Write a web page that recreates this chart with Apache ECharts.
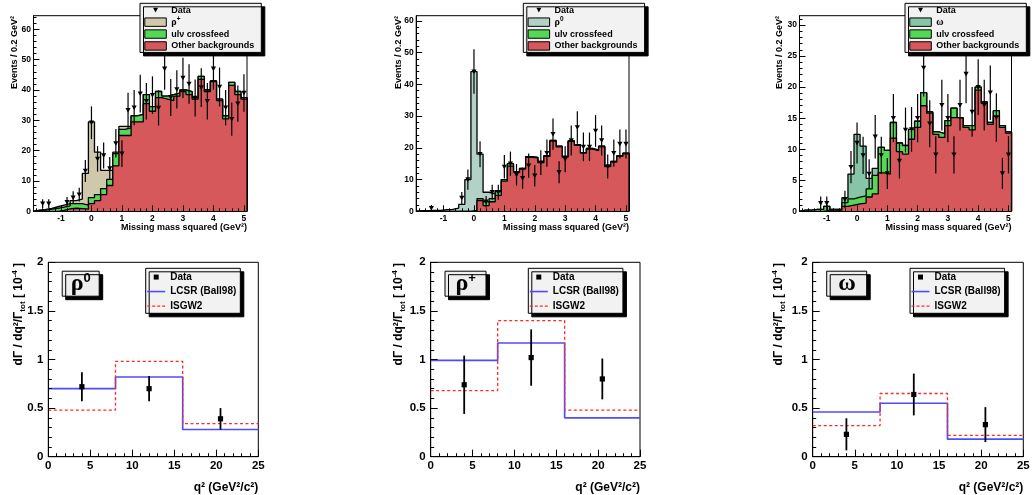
<!DOCTYPE html>
<html><head><meta charset="utf-8">
<script src="https://cdn.jsdelivr.net/npm/echarts@6/dist/echarts.min.js"></script>
<style>html,body{margin:0;padding:0;background:#fff}#c{width:1032px;height:495px}</style>
</head><body><div id="c"></div>
<script>
// ---------- top row: missing-mass-squared histograms (35 bins of 0.2 GeV^2 starting at -1.9) ----------
const binLow = -1.9, binWidth = 0.2, binCount = 35;
const missMassTicks = [-1, 0, 1, 2, 3, 4, 5];
const eventsTicks60 = [0, 10, 20, 30, 40, 50, 60];
const eventsTicks30 = [0, 5, 10, 15, 20, 25, 30];

const rhoPlusOther  = [0,0,0,0,0.3,0.8,1.0,0.9,0.7,2.5,3.5,5.5,8.5,15.0,25.0,25.0,29.5,29.5,35.5,33.0,37.5,37.0,36.5,38.0,39.5,38.5,37.0,43.5,39.5,42.8,36.5,30.5,41.5,38.5,37.0];
const rhoPlusCross  = [0.3,0.4,0.7,1.0,1.1,1.0,1.5,1.6,1.3,2.0,2.0,2.0,2.0,4.0,2.0,2.5,2.0,2.5,3.0,1.5,2.0,1.0,2.0,1.0,0.5,1.0,0.5,1.0,0.5,0.2,0.5,1.0,1.0,1.0,0.5];
const rhoPlusSignal = [0.1,0.2,0.3,0.5,0.6,0.7,1.0,1.5,10.5,25.0,14.0,6.0,3.0,0.5,1.0,0.5,0,0,0,0,0,0,0,0,0,0,0,0,0,0,0,0,0,0,0];
const rhoPlusData   = [null,2.5,2.5,null,null,3.0,4.5,5.5,13.3,29.2,17.3,18.4,14.1,22.4,19.0,33.3,34.2,38.8,36.3,38.3,34.1,47.0,37.5,40.2,44.0,42.0,37.4,40.8,36.3,47.0,41.0,34.2,30.4,35.5,39.0];
const rhoPlusErr    = [0,1.5,1.5,0,0,1.7,2.1,2.3,3.6,5.4,4.2,4.3,3.8,4.7,4.4,5.8,5.8,6.2,6.0,6.2,5.8,6.9,6.1,6.3,6.6,6.5,6.1,6.4,6.0,6.9,6.4,5.8,5.5,6.0,6.2];

const rho0Other  = [0,0,0,0,0,0,0,0,0,0,3.4,1.8,3.0,5.0,9.5,14.2,12.3,13.3,17.0,16.8,15.3,17.3,22.1,20.3,17.1,22.0,20.8,18.3,19.6,19.1,20.3,14.1,15.5,17.3,18.1];
const rho0Cross  = [0,0,0,0,0,0,0,0,0,0.3,0.6,1.2,1.0,1.2,0.5,0.8,0.2,0.2,0.2,0.2,0.2,0.2,0.2,0.2,0.2,0.2,0.2,0.2,0.2,0.2,0.2,0.2,0.2,0.2,0.2];
const rho0Signal = [0.2,0.2,0.3,0.3,0.5,0.6,1.0,2.2,10.0,43.7,14.0,3.0,1.5,0.3,0,0,0,0,0,0,0,0,0,0,0,0,0,0,0,0,0,0,0,0,0];
const rho0Data   = [null,null,1.0,null,null,null,null,4.2,10.0,44.0,18.0,3.0,6.0,6.0,14.0,15.0,11.5,10.4,14.4,11.2,15.3,18.3,24.3,12.3,16.4,22.3,26.4,20.3,20.3,25.3,22.3,14.1,18.3,21.2,21.2];
const rho0Err    = [0,0,1.0,0,0,0,0,1.9,3.2,7.0,4.1,1.8,2.4,2.4,3.7,3.8,3.4,3.3,3.8,3.4,3.9,4.3,4.9,3.5,4.1,4.7,5.1,4.5,4.5,5.0,4.7,3.8,4.3,4.6,4.6];

const omegaOther  = [0,0,0,0,0.2,0.2,0.2,0.8,1.0,1.2,1.3,2.3,2.8,6.2,6.0,11.8,9.6,9.2,11.6,13.5,17.0,15.8,12.4,11.9,13.8,15.1,15.0,13.5,13.1,19.5,17.4,14.0,15.3,13.5,12.6];
const omegaCross  = [0.2,0.2,0.3,0.3,0.6,0.1,0.1,0.6,1.0,1.1,1.2,1.3,3.0,4.1,3.8,2.5,1.4,1.4,1.6,1.0,2.1,0.2,0.4,0.6,0.8,1.5,0.1,0.3,0.7,0.5,0.2,0.3,0.9,0.3,0.2];
const omegaSignal = [0,0,0,0,0,0,0,0.8,4.0,10.1,8.0,1.7,1.1,0,0,0,0,0,0,0,0,0,0,0,0,0,0,0,0,0,0,0,0,0,0];
const omegaData   = [null,null,null,1.3,1.3,null,null,1.9,7.1,11.0,9.0,6.0,12.0,9.0,6.1,15.0,8.1,13.1,13.2,15.0,23.1,14.1,9.1,17.1,15.0,9.1,17.1,22.1,16.0,20.0,17.1,19.1,15.1,6.1,9.1];
const omegaErr    = [0,0,0,1.1,1.1,0,0,1.4,2.6,3.3,3.0,2.4,3.5,3.0,2.5,3.9,2.8,3.6,3.6,3.9,4.6,3.8,3.0,4.1,3.9,3.0,4.1,4.7,4.0,4.5,4.1,4.4,3.9,2.5,3.0];

// ---------- bottom row: dΓ/dq² in three q² bins ----------
const qEdges = [0, 8, 16, 25];
const qCenters = [4, 12, 20.5];
const qTicks = [0, 5, 10, 15, 20, 25];
const rateTicks = [0, 0.5, 1, 1.5, 2];
const rho0Lcsr = [0.70, 0.82, 0.28];
const rho0Isgw2 = [0.48, 0.98, 0.34];
const rho0Rate = [0.72, 0.70, 0.39];
const rho0RateErr = [0.15, 0.13, 0.11];
const rhoPlusLcsr = [0.99, 1.17, 0.40];
const rhoPlusIsgw2 = [0.68, 1.40, 0.48];
const rhoPlusRate = [0.74, 1.02, 0.80];
const rhoPlusRateErr = [0.30, 0.29, 0.21];
const omegaLcsr = [0.46, 0.55, 0.18];
const omegaIsgw2 = [0.32, 0.65, 0.22];
const omegaRate = [0.23, 0.64, 0.33];
const omegaRateErr = [0.165, 0.215, 0.18];

// ---------- styling / layout ----------
const FONT = 'Liberation Sans';
const GREEN = '#55d855', RED = '#d6585a', BLUE = '#4d4dff', DASHRED = '#ff2a2a';
const binHigh = Math.round((binLow + binCount * binWidth) * 1000) / 1000;

const topPanels = [
  {sig:'ρ+', other:rhoPlusOther, cross:rhoPlusCross, signal:rhoPlusSignal, data:rhoPlusData, err:rhoPlusErr, color:'#cfc8aa',
   ymax:64.5, yint:10, yticks:eventsTicks60, grid:{left:33.5, top:15.7, width:213.5, height:195.6}, legendLeft:140, ytx:15},
  {sig:'ρ0', other:rho0Other, cross:rho0Cross, signal:rho0Signal, data:rho0Data, err:rho0Err, color:'#b2d2c8',
   ymax:61.6, yint:10, yticks:eventsTicks60, grid:{left:416.2, top:15.7, width:212.8, height:195.6}, legendLeft:523.3, ytx:398.3},
  {sig:'ω', other:omegaOther, cross:omegaCross, signal:omegaSignal, data:omegaData, err:omegaErr, color:'#88c4a6',
   ymax:31.5, yint:5, yticks:eventsTicks30, grid:{left:799.5, top:15.7, width:212, height:195.6}, legendLeft:905, ytx:780}
];
const botPanels = [
  {lab:'{g|ρ}{s|0}', lcsr:rho0Lcsr, isgw:rho0Isgw2, rate:rho0Rate, err:rho0RateErr,
   grid:{left:48.3, top:262.3, width:210, height:194.4}, legendLeft:145.7, boxLeft:61.7, boxPad:9, ytx:18.3},
  {lab:'{g|ρ}{s|+}', lcsr:rhoPlusLcsr, isgw:rhoPlusIsgw2, rate:rhoPlusRate, err:rhoPlusRateErr,
   grid:{left:430.7, top:262.3, width:209.3, height:194.4}, legendLeft:528.3, boxLeft:445, boxPad:10.5, ytx:398.3},
  {lab:'{g|ω}', lcsr:omegaLcsr, isgw:omegaIsgw2, rate:omegaRate, err:omegaRateErr,
   grid:{left:812.7, top:262.3, width:210.6, height:194.4}, legendLeft:910, boxLeft:826.7, boxPad:11.5, ytx:778.3}
];

function cumulate(...arrs) { return arrs[0].map((_, k) => arrs.reduce((s, a) => s + a[k], 0)); }
function histLine(vals) {
  const pts = [[binLow, 0]];
  vals.forEach((v, k) => { const a = binLow + k * binWidth; pts.push([a, v], [a + binWidth, v]); });
  pts.push([binHigh, 0]);
  return pts;
}
function stepLine(edges, vals) {
  const pts = [];
  vals.forEach((v, i) => { pts.push([edges[i], v], [edges[i + 1], v]); });
  return pts;
}
function triItem(params, api) {
  const x = api.value(0), v = api.value(1), e = api.value(2);
  const c = api.coord([x, v]), hi = api.coord([x, v + e]), lo = api.coord([x, v - e]);
  const s = 2.6;
  return {type:'group', children:[
    {type:'line', shape:{x1:c[0], y1:hi[1], x2:c[0], y2:lo[1]}, style:{stroke:'#000', lineWidth:1.2}},
    {type:'polygon', shape:{points:[[c[0]-s, c[1]-2.2], [c[0]+s, c[1]-2.2], [c[0], c[1]+2.4]]}, style:{fill:'#000'}}
  ]};
}
function sqItem(params, api) {
  const x = api.value(0), v = api.value(1), e = api.value(2);
  const c = api.coord([x, v]), hi = api.coord([x, v + e]), lo = api.coord([x, v - e]);
  const s = 2.6;
  return {type:'group', children:[
    {type:'line', shape:{x1:c[0], y1:hi[1], x2:c[0], y2:lo[1]}, style:{stroke:'#000', lineWidth:1.8}},
    {type:'rect', shape:{x:c[0]-s, y:c[1]-s, width:2*s, height:2*s}, style:{fill:'#000'}}
  ]};
}

const grids = [], xAxes = [], yAxes = [], series = [], legends = [], titles = [], graphics = [];
const tickStyle = {color:'#000', width:1};
const solidIcon = 'path://M0,0M18,8M0,3.2L18,3.2L18,4.8L0,4.8Z';
const dashIcon = 'path://M0,0M18,8M0,3.4L3,3.4L3,4.6L0,4.6ZM5,3.4L8,3.4L8,4.6L5,4.6ZM10,3.4L13,3.4L13,4.6L10,4.6ZM15,3.4L18,3.4L18,4.6L15,4.6Z';

topPanels.forEach((p, i) => {
  grids.push(Object.assign({show:true, borderColor:'#000', borderWidth:1, backgroundColor:'#fff', outerBoundsMode:'none', containLabel:false}, p.grid));
  xAxes.push({gridIndex:i, type:'value', min:binLow, max:binHigh, splitNumber:7, z:10,
    axisLine:{show:true, onZero:false, lineStyle:tickStyle},
    axisTick:{show:true, inside:true, length:6, lineStyle:tickStyle, customValues:missMassTicks},
    minorTick:{show:true, splitNumber:5, length:3, lineStyle:tickStyle},
    axisLabel:{color:'#000', fontFamily:FONT, fontWeight:'bold', fontSize:8.5, margin:2.5, customValues:missMassTicks},
    splitLine:{show:false}});
  yAxes.push({gridIndex:i, type:'value', min:0, max:p.ymax, interval:p.yint, z:10,
    axisLine:{show:true, onZero:false, lineStyle:tickStyle},
    axisTick:{show:true, inside:true, length:6, lineStyle:tickStyle, customValues:p.yticks},
    minorTick:{show:true, splitNumber:5, length:3, lineStyle:tickStyle},
    axisLabel:{color:'#000', fontFamily:FONT, fontWeight:'bold', fontSize:8.5, margin:2.5, customValues:p.yticks},
    splitLine:{show:false}});
  const common = {type:'line', xAxisIndex:i, yAxisIndex:i, symbol:'none', showSymbol:false, animation:false, silent:true,
    emphasis:{disabled:true}, lineStyle:{color:'#000', width:1.3}};
  series.push(Object.assign({}, common, {name:p.sig, z:2, data:histLine(cumulate(p.other, p.cross, p.signal)), areaStyle:{color:p.color, opacity:1}, itemStyle:{color:p.color}}));
  series.push(Object.assign({}, common, {name:'ulν crossfeed', z:3, data:histLine(cumulate(p.other, p.cross)), areaStyle:{color:GREEN, opacity:1}, itemStyle:{color:GREEN}}));
  series.push(Object.assign({}, common, {name:'Other backgrounds', z:4, data:histLine(p.other), areaStyle:{color:RED, opacity:1}, itemStyle:{color:RED}}));
  const pts = [];
  p.data.forEach((v, k) => { if (v != null) pts.push([binLow + (k + 0.5) * binWidth, v, p.err[k]]); });
  series.push({type:'custom', name:'Data', xAxisIndex:i, yAxisIndex:i, z:5, animation:false, silent:true,
    dimensions:['x','y','e'], encode:{x:0, y:1}, data:pts, renderItem:triItem, itemStyle:{color:'#000'}});
  legends.push({show:true, orient:'vertical', align:'left', left:p.legendLeft, top:3.3, z:20, selectedMode:false,
    itemWidth:21.5, itemHeight:8.4, itemGap:0, padding:[1, 7, 0.5, 4.3],
    backgroundColor:'#f2f2f2', borderColor:'#000', borderWidth:1,
    shadowColor:'#000', shadowBlur:0, shadowOffsetX:3.5, shadowOffsetY:3.5,
    textStyle:{fontFamily:FONT, fontSize:9, fontWeight:'bold', color:'#000', lineHeight:11.9,
      rich:{g:{fontFamily:'Liberation Serif', fontSize:10, lineHeight:11.9, color:'#000'},
            s:{fontFamily:FONT, fontSize:6.5, fontWeight:'bold', lineHeight:6.5, verticalAlign:'top', color:'#000'}}},
    formatter: n => n === 'ρ+' ? '{g|ρ}{s|+}' : n === 'ρ0' ? '{g|ρ}{s|0}' : n === 'ω' ? '{g|ω}' : n,
    data:[
      {name:'Data', icon:'path://M0,0M21.5,8.4M8.25,1.8L13.25,1.8L10.75,6.4Z', itemStyle:{color:'#000', borderWidth:0}},
      {name:p.sig, icon:'rect', itemStyle:{color:p.color, borderColor:'#000', borderWidth:1}},
      {name:'ulν crossfeed', icon:'rect', itemStyle:{color:GREEN, borderColor:'#000', borderWidth:1}},
      {name:'Other backgrounds', icon:'rect', itemStyle:{color:RED, borderColor:'#000', borderWidth:1}}
    ]});
  graphics.push({type:'text', x:p.ytx, y:16, rotation:Math.PI/2, z:30,
    style:{text:'Events / 0.2 GeV²', fill:'#000', fontFamily:FONT, fontWeight:'bold', fontSize:9, align:'right', verticalAlign:'middle'}});
  graphics.push({type:'text', x:p.grid.left + p.grid.width, y:228, z:30,
    style:{text:'Missing mass squared (GeV²)', fill:'#000', fontFamily:FONT, fontWeight:'bold', fontSize:9, align:'right', verticalAlign:'middle'}});
});

botPanels.forEach((p, j) => {
  const i = j + 3;
  grids.push(Object.assign({show:true, borderColor:'#000', borderWidth:1, backgroundColor:'#fff', outerBoundsMode:'none', containLabel:false}, p.grid));
  xAxes.push({gridIndex:i, type:'value', min:0, max:25, interval:5, z:10,
    axisLine:{show:true, onZero:false, lineStyle:tickStyle},
    axisTick:{show:true, inside:true, length:7, lineStyle:tickStyle, customValues:qTicks},
    minorTick:{show:true, splitNumber:5, length:3.5, lineStyle:tickStyle},
    axisLabel:{color:'#000', fontFamily:FONT, fontWeight:'bold', fontSize:11.5, margin:3.5, customValues:qTicks},
    splitLine:{show:false}});
  yAxes.push({gridIndex:i, type:'value', min:0, max:2, interval:0.5, z:10,
    axisLine:{show:true, onZero:false, lineStyle:tickStyle},
    axisTick:{show:true, inside:true, length:7, lineStyle:tickStyle, customValues:rateTicks},
    minorTick:{show:true, splitNumber:5, length:3.5, lineStyle:tickStyle},
    axisLabel:{color:'#000', fontFamily:FONT, fontWeight:'bold', fontSize:11.5, margin:5, customValues:rateTicks},
    splitLine:{show:false}});
  const common = {type:'line', xAxisIndex:i, yAxisIndex:i, symbol:'none', showSymbol:false, animation:false, silent:true, emphasis:{disabled:true}};
  series.push(Object.assign({}, common, {name:'LCSR (Ball98)', z:3, data:stepLine(qEdges, p.lcsr), lineStyle:{color:BLUE, width:1.7}, itemStyle:{color:BLUE}}));
  series.push(Object.assign({}, common, {name:'ISGW2', z:4, data:stepLine(qEdges, p.isgw), lineStyle:{color:DASHRED, width:1.3, type:[3, 2.5]}, itemStyle:{color:DASHRED}}));
  series.push({type:'custom', name:'Data', xAxisIndex:i, yAxisIndex:i, z:5, animation:false, silent:true,
    dimensions:['x','y','e'], encode:{x:0, y:1}, data:qCenters.map((q, k) => [q, p.rate[k], p.err[k]]), renderItem:sqItem, itemStyle:{color:'#000'}});
  legends.push({show:true, orient:'vertical', align:'left', left:p.legendLeft, top:268.3, z:20, selectedMode:false,
    itemWidth:18, itemHeight:8, itemGap:0, padding:[1.5, 4, 0, 1.5],
    backgroundColor:'#f2f2f2', borderColor:'#000', borderWidth:1,
    shadowColor:'#000', shadowBlur:0, shadowOffsetX:3.5, shadowOffsetY:3.5,
    textStyle:{fontFamily:FONT, fontSize:10, fontWeight:'bold', color:'#000', lineHeight:14.5},
    data:[
      {name:'Data', icon:'path://M0,0M18,8M6.5,1.5L11.5,1.5L11.5,6.5L6.5,6.5Z', itemStyle:{color:'#000', borderWidth:0}},
      {name:'LCSR (Ball98)', icon:solidIcon, itemStyle:{color:BLUE, borderWidth:0}},
      {name:'ISGW2', icon:dashIcon, itemStyle:{color:DASHRED, borderWidth:0}}
    ]});
  titles.push({text:p.lab, left:p.boxLeft, top:270.7, z:20, padding:[1, p.boxPad, 1, p.boxPad],
    backgroundColor:'#eeeeee', borderColor:'#000', borderWidth:1,
    shadowColor:'#000', shadowBlur:0, shadowOffsetX:3.5, shadowOffsetY:3.5,
    textStyle:{rich:{g:{fontFamily:'Liberation Serif', fontSize:24, lineHeight:24, color:'#000'},
                     s:{fontFamily:FONT, fontSize:13, fontWeight:'bold', lineHeight:13, verticalAlign:'top', color:'#000'}}}});
  graphics.push({type:'text', x:p.ytx, y:263, rotation:Math.PI/2, z:30,
    style:{text:'{a|dΓ / dq²/Γ}{b|tot}{a| [ 10}{c|-4}{a| ]}', align:'right', verticalAlign:'middle',
      rich:{a:{fontFamily:FONT, fontWeight:'bold', fontSize:12, lineHeight:16, fill:'#000'},
            b:{fontFamily:FONT, fontWeight:'bold', fontSize:8, lineHeight:8, verticalAlign:'bottom', fill:'#000'},
            c:{fontFamily:FONT, fontWeight:'bold', fontSize:8, lineHeight:8, verticalAlign:'top', fill:'#000'}}}});
  graphics.push({type:'text', x:p.grid.left + p.grid.width, y:488, z:30,
    style:{text:'q² (GeV²/c²)', fill:'#000', fontFamily:FONT, fontWeight:'bold', fontSize:12, align:'right', verticalAlign:'middle'}});
});

const chart = echarts.init(document.getElementById('c'), null, {renderer:'canvas', width:1032, height:495});
chart.setOption({
  animation:false,
  backgroundColor:'#fff',
  grid:grids, xAxis:xAxes, yAxis:yAxes, series:series,
  legend:legends, title:titles, graphic:graphics
});
</script></body></html>
